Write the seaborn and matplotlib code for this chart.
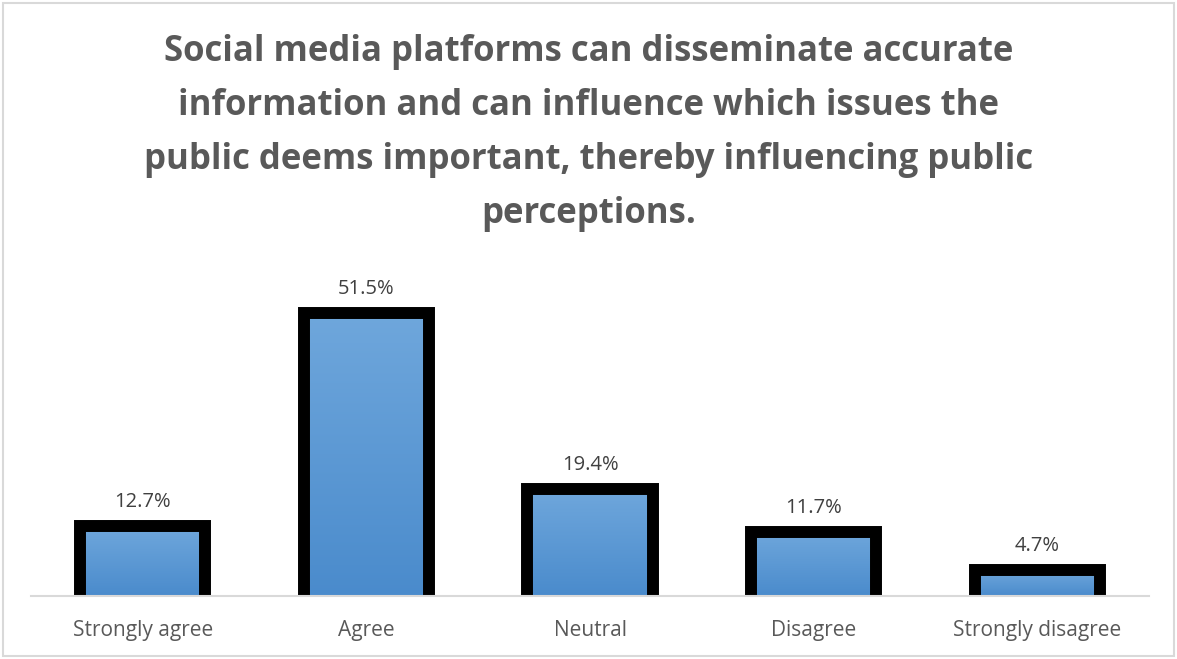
import numpy as np
import pandas as pd
import matplotlib
matplotlib.use("Agg")
import matplotlib.pyplot as plt
from matplotlib.colors import LinearSegmentedColormap
from matplotlib.patches import Rectangle
import seaborn as sns

categories = ["Strongly agree", "Agree", "Neutral", "Disagree", "Strongly disagree"]
percentages = [12.7, 51.5, 19.4, 11.7, 4.7]
title = ("Social media platforms can disseminate accurate\n"
         "information and can influence which issues the\n"
         "public deems important, thereby influencing public\n"
         "perceptions.")

sns.set_theme(style="white")
plt.rcParams["font.family"] = ["Open Sans", "DejaVu Sans"]

W, H = 1177, 659
fig = plt.figure(figsize=(W / 100, H / 100), dpi=100)
ax = fig.add_axes([31 / W, (H - 596) / H, (1149 - 31) / W, (596 - 266) / H])

df = pd.DataFrame({"category": categories, "pct": percentages})
sns.barplot(data=df, x="category", y="pct", ax=ax, width=0.56,
            color="#5b9bd5", edgecolor="black", linewidth=8.6, saturation=1)

# push the lower outline of each bar below the axis line so it is clipped away,
# and fill each bar with a vertical gradient starting at zero
drop = 1.5
grad = LinearSegmentedColormap.from_list("barfill", ["#4a8bcc", "#6fa7dc"])
gradient = np.linspace(0, 1, 256).reshape(-1, 1)
for patch in list(ax.patches):
    x0, w = patch.get_x(), patch.get_width()
    top = patch.get_y() + patch.get_height()
    patch.set_y(-drop)
    patch.set_height(top + drop)
    im = ax.imshow(gradient, cmap=grad, origin="lower", aspect="auto",
                   extent=(x0, x0 + w, 0, top), zorder=patch.get_zorder() - 0.1)
    im.set_clip_path(patch)
    patch.set_facecolor("none")
    patch.set_zorder(patch.get_zorder() + 0.2)
ax.set_xlim(-0.5, 4.5)
ax.set_ylim(0, 60)

for i, v in enumerate(percentages):
    ax.annotate(f"{v}%", (i, v), xytext=(0, 10), textcoords="offset points",
                ha="center", va="bottom", fontsize=14.5, color="#404040")

ax.set_xlabel("")
ax.set_ylabel("")
ax.set_yticks([])
ax.tick_params(axis="x", length=0, pad=17, labelsize=15, labelcolor="#595959")
for side in ["top", "left", "right"]:
    ax.spines[side].set_visible(False)
ax.spines["bottom"].set_color("#d9d9d9")
ax.spines["bottom"].set_linewidth(1.5)
ax.spines["bottom"].set_zorder(5)

fig.text(0.5, 1 - 133 / H, title, ha="center", va="center", fontsize=25,
         fontweight="bold", color="#595959", linespacing=1.66)

fig.patches.append(Rectangle((3 / W, 3 / H), (W - 6) / W, (H - 6) / H,
                             transform=fig.transFigure, fill=False,
                             edgecolor="#d9d9d9", linewidth=1.5))

fig.savefig("out.png", dpi=100, facecolor="white")
